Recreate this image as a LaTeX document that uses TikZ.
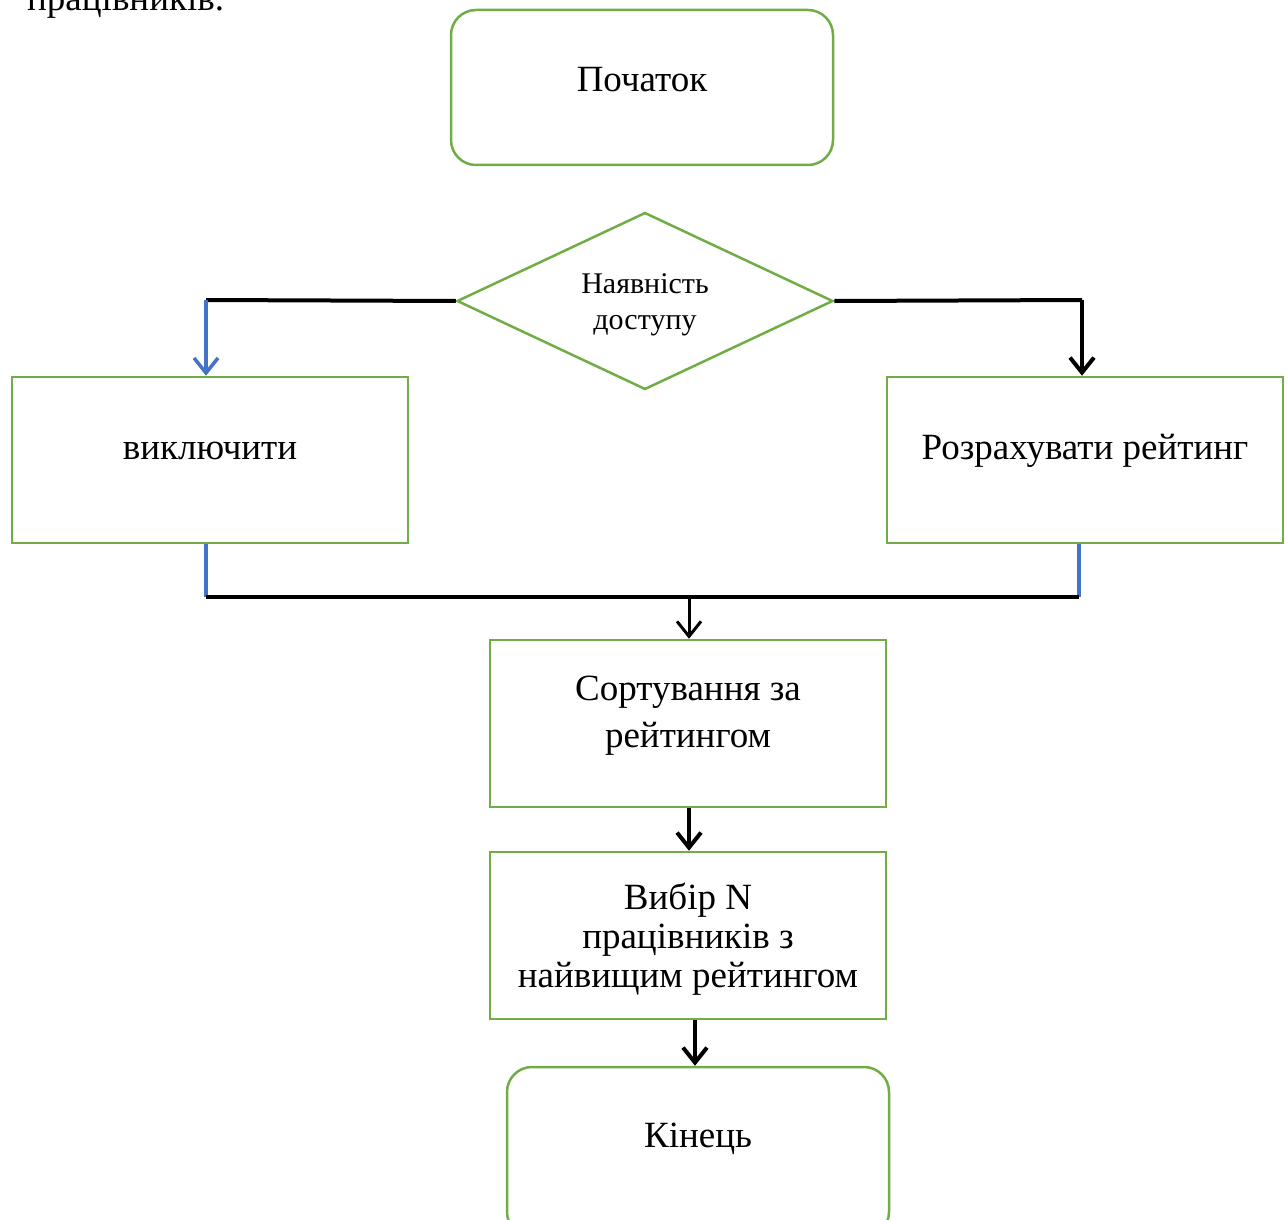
\documentclass[tikz,border=0pt]{standalone}
\usepackage{fontspec}
\setmainfont{Liberation Serif}
\usetikzlibrary{shapes.geometric,arrows.meta}
\definecolor{boxgreen}{RGB}{112,173,71}
\definecolor{linkblue}{RGB}{68,114,196}
\tikzset{
  box/.style={draw=boxgreen, line width=2.5pt, rectangle, inner sep=0pt, align=center,
    font=\fontsize{37}{39}\selectfont},
  term/.style={box, rounded corners=25pt},
  decide/.style={draw=boxgreen, line width=2.5pt, diamond, inner sep=0pt},
  label/.style={inner sep=0pt, align=center, font=\fontsize{37}{40}\selectfont},
  blk/.style={line width=4pt, black},
  blu/.style={line width=3.5pt, linkblue},
  tip/.style={-{Straight Barb[length=15pt,width=24pt]}}
}
\begin{document}
\begin{tikzpicture}[x=1pt,y=-1pt]
\useasboundingbox (0,0) rectangle (1288,1220);
\clip (0,0) rectangle (1288,1220);
\node[anchor=base west, label] (prev) at (27,11) {працівників.};
\node[term, minimum width=382pt, minimum height=155pt] (start) at (642,87.5) {};
\node[label] (starttxt) at (642,80) {Початок};
\node[decide, minimum width=376pt, minimum height=177pt] (dec) at (645,301) {};
\node[inner sep=0pt, align=center, font=\fontsize{30}{36}\selectfont] (dectxt) at (645,305) {Наявність\\доступу};
\node[box, minimum width=396pt, minimum height=166pt] (excl) at (210,460) {};
\node[label] (excltxt) at (210,451) {виключити};
\node[box, minimum width=396pt, minimum height=166pt] (calc) at (1085,460) {};
\node[label] (calctxt) at (1085,451) {Розрахувати рейтинг};
\node[box, minimum width=396pt, minimum height=167pt] (sort) at (688,723.5) {};
\node[label, font=\fontsize{37}{47}\selectfont] (sorttxt) at (688,716) {Сортування за\\рейтингом};
\node[box, minimum width=396pt, minimum height=167pt] (sel) at (688,935.5) {};
\node[label, font=\fontsize{37}{39}\selectfont] (seltxt) at (688,939) {Вибір N\\працівників з\\найвищим рейтингом};
\node[term, minimum width=382pt, minimum height=170pt] (fin) at (698,1152) {};
\node[label] (fintxt) at (698,1139) {Кінець};
\coordinate (lt) at (206,300);
\coordinate (rt) at (1082,300);
\coordinate (lb) at (206,597);
\coordinate (rb) at (1079,597);
\coordinate (mid) at (689,597);
\draw[blk] (dec.west) -- (lt);
\draw[blu, tip] (lt) -- (lt |- excl.north);
\draw[blk] (dec.east) -- (rt);
\draw[blk, tip] (rt) -- (rt |- calc.north);
\draw[blu] (lb |- excl.south) -- (lb);
\draw[blu] (rb |- calc.south) -- (rb);
\draw[blk] (lb) -- (rb);
\draw[blk, tip, line width=3pt] (mid) -- (mid |- sort.north);
\draw[blk, tip] (sort.south -| mid) -- (mid |- sel.north);
\draw[blk, tip] (sel.south -| 695,0) -- (fin.north -| 695,0);
\end{tikzpicture}
\end{document}
